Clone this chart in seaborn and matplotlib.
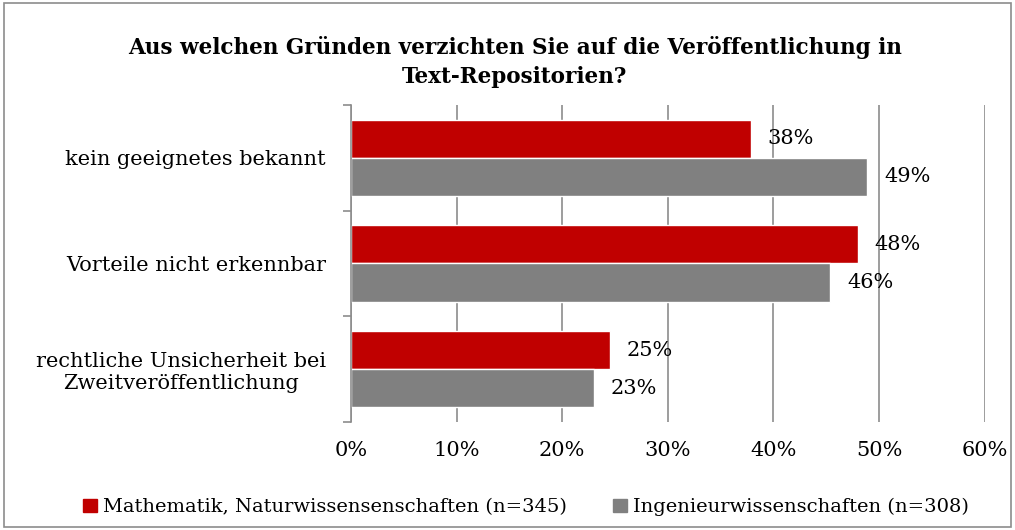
import matplotlib
matplotlib.use("Agg")
import matplotlib.pyplot as plt
import matplotlib.patches as mpatches
from matplotlib.ticker import FixedLocator
import pandas as pd
import seaborn as sns

# data
gruende = ["kein geeignetes bekannt",
           "Vorteile nicht erkennbar",
           "rechtliche Unsicherheit bei\nZweitveröffentlichung"]
gruppen = ["Mathematik, Naturwissensenschaften (n=345)",
           "Ingenieurwissenschaften (n=308)"]
mathe_nat = [37.9, 48.0, 24.5]
ingenieur = [48.9, 45.4, 23.0]
mathe_labels = ["38%", "48%", "25%"]
ing_labels = ["49%", "46%", "23%"]
xticks = [0, 10, 20, 30, 40, 50, 60]

df = pd.DataFrame({
    "Grund": gruende * 2,
    "Anteil": mathe_nat + ingenieur,
    "Gruppe": [gruppen[0]] * 3 + [gruppen[1]] * 3,
})

sns.set_style("white")
plt.rcParams["font.family"] = ["DejaVu Serif"]

rot = "#C00000"
grau = "#808080"
linie = "#8C8C8C"
schrift = "#000000"

fig = plt.figure(figsize=(10.15, 5.3), dpi=100)
ax = fig.add_axes([0.3458, 0.2038, 0.6242, 0.5981])

sns.barplot(data=df, y="Grund", x="Anteil", hue="Gruppe", orient="h",
            palette=[rot, grau], saturation=1, width=0.72, gap=0,
            legend=False, ax=ax)

for cont, labs in zip(ax.containers, [mathe_labels, ing_labels]):
    ax.bar_label(cont, labels=labs, padding=12, fontsize=15, color=schrift)

ax.set_xlim(0, 60)
ax.set_xticks(xticks)
ax.set_xticklabels([f"{t}%" for t in xticks])
ax.set_xlabel("")
ax.set_ylabel("")
ax.grid(axis="x", color=linie, linewidth=1.2)
ax.set_axisbelow(True)

for s in ["top", "right", "bottom"]:
    ax.spines[s].set_visible(False)
ax.spines["left"].set_color(linie)
ax.spines["left"].set_linewidth(1.2)

ax.tick_params(axis="x", length=0, pad=14, labelsize=15, labelcolor=schrift)
ax.tick_params(axis="y", which="major", length=0, pad=18, labelsize=15,
               labelcolor=schrift)
ax.yaxis.set_minor_locator(FixedLocator([-0.5, 0.5, 1.5, 2.5]))
ax.tick_params(axis="y", which="minor", left=True, length=6, width=1.2,
               color=linie, direction="out")
for lab in ax.get_yticklabels():
    lab.set_multialignment("center")

fig.text(0.507, 0.883,
         "Aus welchen Gründen verzichten Sie auf die Veröffentlichung in\n"
         "Text-Repositorien?", ha="center", va="center", fontsize=15.5,
         fontweight="bold", linespacing=1.45, color=schrift)

handles = [mpatches.Patch(color=rot, label=gruppen[0]),
           mpatches.Patch(color=grau, label=gruppen[1])]
fig.legend(handles=handles, loc="center", bbox_to_anchor=(0.518, 0.043),
           ncol=2, frameon=False, fontsize=14, handlelength=0.7,
           handleheight=0.7, handletextpad=0.3, columnspacing=2.4,
           labelcolor=schrift)

fig.add_artist(mpatches.Rectangle((0.004, 0.006), 0.992, 0.988,
                                  transform=fig.transFigure, fill=False,
                                  edgecolor=linie, linewidth=1.2))

fig.savefig("out.png", dpi=100)
